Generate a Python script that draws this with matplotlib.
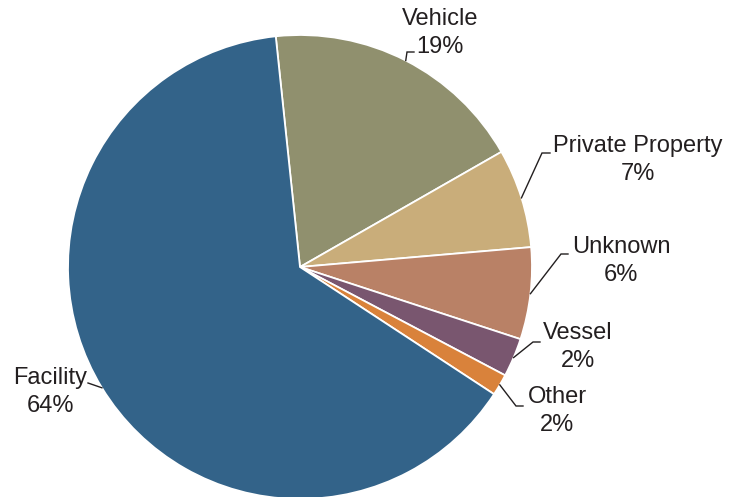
import numpy as np
import matplotlib
matplotlib.use("Agg")
import matplotlib.pyplot as plt

# Data (order drawn clockwise starting with Vehicle)
categories = ["Vehicle", "Private Property", "Unknown", "Vessel", "Other", "Facility"]
shares = [18.4, 6.9, 6.4, 2.7, 1.5, 64.1]
pct_labels = ["19%", "7%", "6%", "2%", "2%", "64%"]
colors = ["#90906e", "#c9ad7a", "#b98166", "#79566f", "#d9823b", "#336389"]

W, H = 741, 497
fig = plt.figure(figsize=(W / 100, H / 100), dpi=100)
ax = fig.add_axes([0, 0, 1, 1])

def Y(ypix):
    return H - ypix

cx, cy, R = 300, Y(267), 232
wedges, _ = ax.pie(shares, colors=colors, startangle=96, counterclock=False,
                   center=(cx, cy), radius=R, frame=True,
                   wedgeprops=dict(edgecolor="white", linewidth=1.3))
ax.set_xlim(0, W)
ax.set_ylim(0, H)
ax.set_aspect("equal")
ax.axis("off")

# label layout: (text x, text y center, elbow, end)
layout = {
    "Vehicle": ((440, 33), (407, 52), (414, 52)),
    "Private Property": ((638, 160), (542, 153), (550, 153)),
    "Unknown": ((621, 261), (561, 254), (568, 254)),
    "Vessel": ((578, 347), (533, 342), (540, 342)),
    "Other": ((557, 411), (516, 406), (523, 406)),
    "Facility": ((50, 392), (88, 383), (88, 383)),
}

txtcol = "#231f20"
for w, cat, pl in zip(wedges, categories, pct_labels):
    mid = np.deg2rad((w.theta1 + w.theta2) / 2)
    ex, ey = cx + R * np.cos(mid), cy + R * np.sin(mid)
    (tx, ty), (bx, by), (dx, dy) = layout[cat]
    ax.plot([ex, bx, dx], [ey, Y(by), Y(dy)], color=txtcol, lw=1.0,
            solid_joinstyle="miter", zorder=1)
    ax.text(tx, Y(ty), f"{cat}\n{pl}", ha="center", va="center",
            multialignment="center", fontsize=17, linespacing=1.3,
            color=txtcol, family=["Liberation Sans", "DejaVu Sans"])

fig.savefig("out.png", dpi=100)
